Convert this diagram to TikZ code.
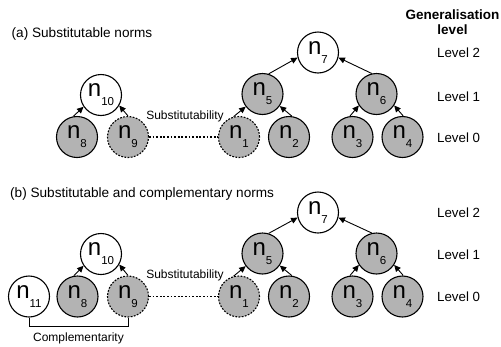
\documentclass[tikz,border=0pt]{standalone}
\usepackage{fontspec}
\setmainfont{Liberation Sans}
\usetikzlibrary{arrows.meta}
\definecolor{normgray}{RGB}{179,179,179}
\newcommand\normlab[1]{{\fontsize{24}{24}\selectfont n}\raisebox{-9pt}{\fontsize{11.5}{11.5}\selectfont #1}}
\tikzset{
  normbase/.style={circle, draw=black, line width=1.1pt, minimum size=41pt, inner sep=0pt},
  normw/.style={normbase, fill=white},
  normg/.style={normbase, fill=normgray},
  normd/.style={normbase, fill=normgray, dash pattern=on 1.8pt off 1.4pt},
  genarrow/.style={line width=0.9pt, -{Triangle[length=6.5pt,width=6pt]}},
  subline/.style={line width=1.1pt, dash pattern=on 1.8pt off 1.8pt},
  compline/.style={line width=1pt},
  caption/.style={font=\fontsize{13.6}{15}\selectfont, anchor=west, inner sep=0pt},
  levtext/.style={font=\fontsize{13.3}{15}\selectfont, anchor=west, inner sep=0pt},
  smalltext/.style={font=\fontsize{12}{14}\selectfont, inner sep=0pt}
}
\begin{document}
\begin{tikzpicture}[x=1pt, y=-1pt]
\useasboundingbox (0,0) rectangle (501,346);
% header
\node[font=\bfseries\fontsize{13.5}{15}\selectfont, inner sep=0pt] (gen) at (452.5,15) {Generalisation};
\node[font=\bfseries\fontsize{13.5}{15}\selectfont, inner sep=0pt] (genlev) at (452.5,30) {level};
% ---------------- panel (a)
\node[caption] (capa) at (11.5,34) {(a) Substitutable norms};
\node[levtext] (la2) at (437,53) {Level 2};
\node[levtext] (la1) at (437,97) {Level 1};
\node[levtext] (la0) at (437,138) {Level 0};

\node[normw] (a10) at (101,95) {\normlab{10}};
\node[normg] (a8) at (77,137) {\normlab{8}};
\node[normd] (a9) at (128,137) {\normlab{9}};
\node[normd] (a1) at (239,137) {\normlab{1}};
\node[normg] (a2) at (289,137) {\normlab{2}};
\node[normg] (a5) at (262.5,94) {\normlab{5}};
\node[normw] (a7) at (318,52.5) {\normlab{7}};
\node[normg] (a6) at (376.5,94) {\normlab{6}};
\node[normg] (a3) at (352.5,137) {\normlab{3}};
\node[normg] (a4) at (402.5,137) {\normlab{4}};

\draw[genarrow] (a8.100) -- (a10.-146);
\draw[genarrow] (a9.90) -- (a10.-30);
\draw[genarrow] (a1.105) -- (a5.-143);
\draw[genarrow] (a2.82) -- (a5.-35);
\draw[genarrow] (a5.73) -- (a7.-166);
\draw[genarrow] (a6.103) -- (a7.-14);
\draw[genarrow] (a3.97) -- (a6.-147);
\draw[genarrow] (a4.88) -- (a6.-33);
\draw[subline] (a9) -- (a1);
\node[smalltext] (suba) at (185,116) {Substitutability};

% ---------------- panel (b)
\node[caption] (capb) at (10,193.5) {(b) Substitutable and complementary norms};
\node[levtext] (lb2) at (437,213) {Level 2};
\node[levtext] (lb1) at (437,255) {Level 1};
\node[levtext] (lb0) at (437,297) {Level 0};

\node[normw] (b10) at (101,254) {\normlab{10}};
\node[normw] (b11) at (29,296.5) {\normlab{11}};
\node[normg] (b8) at (77.5,296.5) {\normlab{8}};
\node[normd] (b9) at (128,296.5) {\normlab{9}};
\node[normd] (b1) at (239,296.5) {\normlab{1}};
\node[normg] (b2) at (289,296.5) {\normlab{2}};
\node[normg] (b5) at (262.5,253.5) {\normlab{5}};
\node[normw] (b7) at (318,212.5) {\normlab{7}};
\node[normg] (b6) at (376.5,253.5) {\normlab{6}};
\node[normg] (b3) at (352.5,296.5) {\normlab{3}};
\node[normg] (b4) at (402.5,296.5) {\normlab{4}};

\draw[genarrow] (b8.100) -- (b10.-146);
\draw[genarrow] (b9.90) -- (b10.-30);
\draw[genarrow] (b1.105) -- (b5.-143);
\draw[genarrow] (b2.82) -- (b5.-35);
\draw[genarrow] (b5.73) -- (b7.-166);
\draw[genarrow] (b6.103) -- (b7.-14);
\draw[genarrow] (b3.97) -- (b6.-147);
\draw[genarrow] (b4.88) -- (b6.-33);
\draw[subline] (b9) -- (b1);
\node[smalltext] (subb) at (185,275) {Substitutability};

\draw[compline] (b11.south) -- ++(0,9) -| (b9.south);
\node[smalltext] (comp) at (78.5,338) {Complementarity};
\end{tikzpicture}
\end{document}
